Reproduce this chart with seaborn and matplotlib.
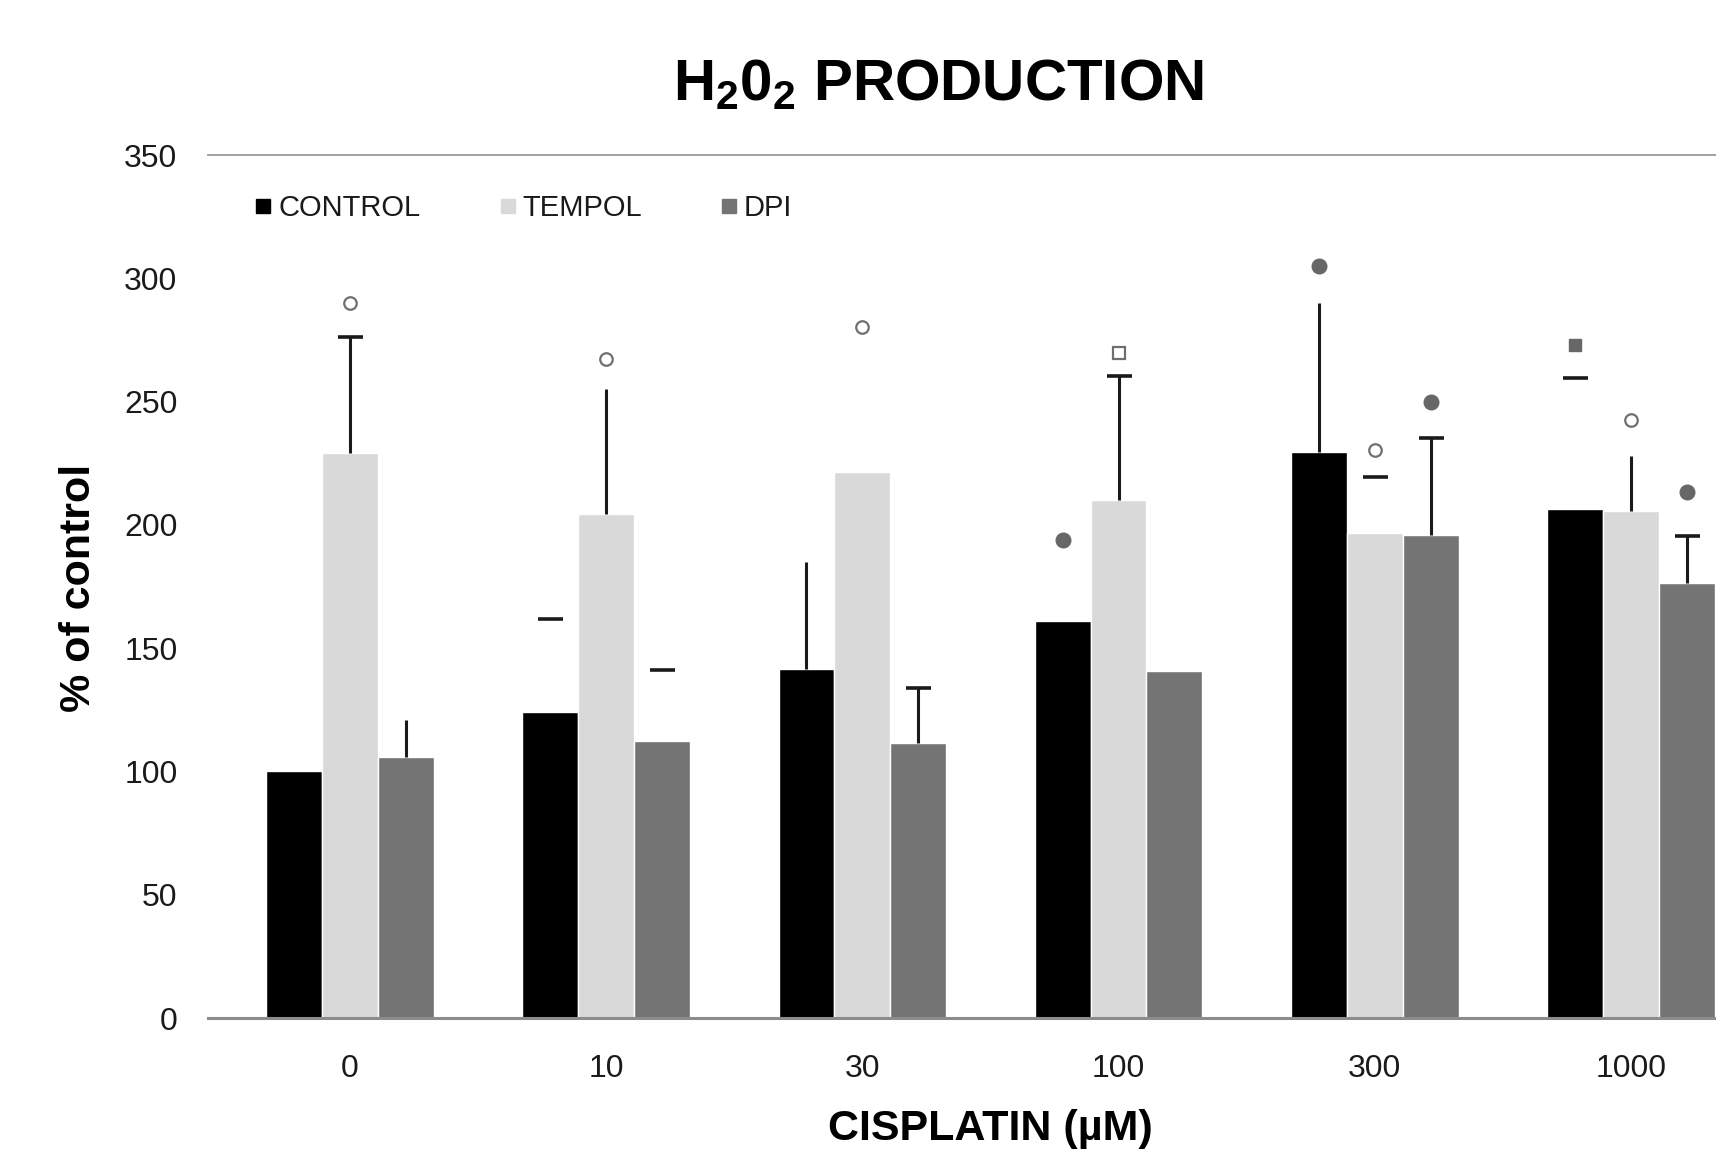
import pandas as pd
import matplotlib
matplotlib.use('Agg')
import matplotlib.pyplot as plt
from matplotlib.lines import Line2D
import seaborn as sns

# --- data ---
doses = ['0', '10', '30', '100', '300', '1000']
groups = ['CONTROL', 'TEMPOL', 'DPI']

control_mean = [100.0, 124.2, 141.7, 161.2, 229.6, 206.5]
tempol_mean = [229.3, 204.3, 221.6, 210.0, 196.8, 205.6]
dpi_mean = [105.7, 112.3, 111.5, 140.8, 195.9, 176.3]

# upper error only (SEM)
control_sem = [0, 37.5, 43.1, 0, 60.4, 52.9]
tempol_sem = [47.0, 50.8, 0, 50.3, 22.6, 22.3]
dpi_sem = [15.2, 28.8, 22.2, 0, 39.5, 19.1]

# which parts of each error bar are visible in the original
control_stem = [False, False, True, False, True, False]
control_cap = [False, True, False, False, False, True]
tempol_stem = [True, True, False, True, False, True]
tempol_cap = [True, False, False, True, True, False]
dpi_stem = [True, False, True, False, True, True]
dpi_cap = [False, True, True, False, True, True]

# significance symbols above bars
control_sig = [None, None, None, 193.7, 305.0, 273.0]
control_sig_kind = ['', '', '', 'dot', 'dot', 'square']
tempol_sig = [289.9, 267.1, 280.3, 269.6, 230.5, 242.5]
tempol_sig_kind = ['open', 'open', 'open', 'opensq', 'open', 'open']
dpi_sig = [None, None, None, None, 250.0, 213.2]
dpi_sig_kind = ['', '', '', '', 'dot', 'dot']

colors = {'CONTROL': '#000000', 'TEMPOL': '#d9d9d9', 'DPI': '#747474'}

df = pd.DataFrame({
    'dose': doses * 3,
    'group': [g for g in groups for _ in doses],
    'value': control_mean + tempol_mean + dpi_mean,
})

sns.set_style('white')
plt.rcParams['font.family'] = ['Liberation Sans', 'DejaVu Sans']
plt.rcParams['text.color'] = 'black'
plt.rcParams['mathtext.fontset'] = 'custom'
plt.rcParams['mathtext.bf'] = 'Liberation Sans:bold'
plt.rcParams['mathtext.rm'] = 'Liberation Sans:bold'
plt.rcParams['mathtext.default'] = 'bf'

fig = plt.figure(figsize=(17.16, 11.55), dpi=100)
ax = fig.add_axes([0.1212, 0.1186, 0.8788, 0.7472])

sns.barplot(data=df, x='dose', y='value', hue='group', order=doses,
            hue_order=groups, palette=colors, width=0.654, saturation=1,
            errorbar=None, legend=False, ax=ax)

sems = [control_sem, tempol_sem, dpi_sem]
stems = [control_stem, tempol_stem, dpi_stem]
caps = [control_cap, tempol_cap, dpi_cap]
sigs = [control_sig, tempol_sig, dpi_sig]
kinds = [control_sig_kind, tempol_sig_kind, dpi_sig_kind]

sig_style = {
    'open': dict(marker='o', mfc='white', mec='#6f6f6f', mew=1.6, ms=9),
    'opensq': dict(marker='s', mfc='white', mec='#6f6f6f', mew=1.6, ms=8.5),
    'dot': dict(marker='o', mfc='#676767', mec='#676767', ms=10.5),
    'square': dict(marker='s', mfc='#676767', mec='#676767', ms=9),
}

for i, container in enumerate(ax.containers):
    for j, bar in enumerate(container):
        xc = bar.get_x() + bar.get_width() / 2
        top = bar.get_height()
        err = sems[i][j]
        if err > 0 and stems[i][j]:
            ax.vlines(xc, top, top + err, color='#1a1a1a', lw=2.2, zorder=3)
        if err > 0 and caps[i][j]:
            ax.plot(xc, top + err, marker='_', ms=18, mew=2.6,
                    color='#1a1a1a', zorder=3)
        if sigs[i][j] is not None:
            ax.plot(xc, sigs[i][j], ls='', zorder=4, **sig_style[kinds[i][j]])

ax.set_ylim(0, 350)
ax.set_xlim(-0.554, 5.332)
ax.set_yticks(range(0, 351, 50))
ax.set_xlabel('')
ax.set_ylabel('')
ax.tick_params(axis='y', direction='in', length=9, width=1, color='#8c8c8c',
               pad=22, labelsize=23, labelcolor='#1a1a1a')
ax.tick_params(axis='x', length=0, pad=26, labelsize=23, labelcolor='#1a1a1a')

for side in ['left', 'right']:
    ax.spines[side].set_visible(False)
ax.spines['top'].set_color('#9a9a9a')
ax.spines['top'].set_linewidth(1.3)
ax.spines['bottom'].set_color('#8c8c8c')
ax.spines['bottom'].set_linewidth(2.2)

handles = [Line2D([], [], ls='', marker='s', ms=9.5, color=colors[g]) for g in groups]
ax.legend(handles, groups, loc='center left', bbox_to_anchor=(0.031, 0.9386),
          ncol=3, frameon=False, fontsize=21, handlelength=0.6,
          handletextpad=0.2, columnspacing=2.7, borderpad=0, borderaxespad=0,
          labelcolor='#1a1a1a')

fig.text(0.5466, 0.9134, 'H$_2$0$_2$ PRODUCTION', ha='center', va='baseline',
         fontsize=42, fontweight='bold')
fig.text(0.046, 0.491, '% of control', rotation=90, ha='center', va='center',
         fontsize=31, fontweight='bold')
fig.text(0.577, 0.0225, 'CISPLATIN (\u00b5M)', ha='center', va='center',
         fontsize=31, fontweight='bold')

fig.savefig('out.png', dpi=100)
